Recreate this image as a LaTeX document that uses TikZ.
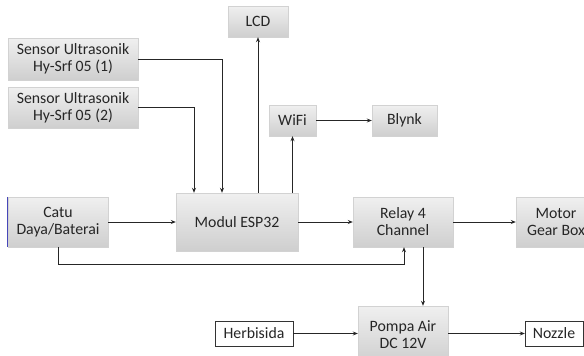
\documentclass[tikz,border=0pt]{standalone}
\usepackage{fontspec}
\setmainfont{Carlito}
\usetikzlibrary{arrows.meta}
\tikzset{
  blok/.style={draw=gray!35, top color=gray!12, bottom color=gray!38, align=center,
    inner sep=0pt, font=\fontsize{15.8}{17}\selectfont, text=black!85},
  kotak/.style={draw=black!80, fill=white, align=center, inner sep=0pt,
    font=\fontsize{15.8}{17}\selectfont, text=black!85},
  arr/.style={-{Stealth[length=5pt,width=4pt]}, line width=0.9pt, black!85},
  lin/.style={line width=0.9pt, black!85}
}
\begin{document}
\begin{tikzpicture}[x=1pt,y=-1pt]
    \useasboundingbox (0,0) rectangle (584,356);
    \clip (0,0) rectangle (584,356);
    % blocks
    \node[blok, minimum width=130pt, minimum height=42pt] (sens1) at (73,59) {Sensor Ultrasonik\\Hy-Srf 05 (1)};
    \node[blok, minimum width=130pt, minimum height=41pt] (sens2) at (73,107.5) {Sensor Ultrasonik\\Hy-Srf 05 (2)};
    \node[blok, minimum width=60pt, minimum height=31pt] (lcd) at (258,21.5) {LCD};
    \node[blok, minimum width=47pt, minimum height=31pt] (wifi) at (292.5,120.5) {WiFi};
    \node[blok, minimum width=65pt, minimum height=31pt] (blynk) at (404.5,120.5) {Blynk};
    \node[blok, minimum width=100pt, minimum height=50pt] (catu) at (58,222) {Catu\\Daya/Baterai};
    \node[blok, minimum width=122pt, minimum height=58pt] (esp) at (237,222) {Modul ESP32};
    \node[blok, minimum width=100pt, minimum height=50pt] (relay) at (403,222) {Relay 4\\Channel};
    \node[blok, minimum width=80pt, minimum height=50pt] (motor) at (556,222) {Motor\\Gear Box};
    \node[blok, minimum width=90pt, minimum height=58pt] (pump) at (403,335) {Pompa Air\\DC 12V};
    \node[kotak, minimum width=78pt, minimum height=25pt] (herb) at (254,333.5) {Herbisida};
    \node[kotak, minimum width=58pt, minimum height=25pt] (nozzle) at (554,333.5) {Nozzle};
    \draw[blue!45!gray, line width=0.8pt] (catu.north west) -- (catu.south west);
    % connectors
    \draw[arr] (sens1.east) -| ([xshift=-15pt]esp.north);
    \draw[arr] (sens2.east) -| ([xshift=-43pt]esp.north);
    \draw[arr] (esp.north -| lcd.south) -- (lcd.south);
    \draw[arr] (esp.north -| wifi.south) -- (wifi.south);
    \draw[arr] (wifi.east) -- (blynk.west);
    \draw[arr] (catu.east) -- (esp.west);
    \draw[arr] (esp.east) -- (relay.west);
    \draw[arr] (relay.east) -- (motor.west);
    \draw[arr] (catu.south) -- ++(0,17) -| ([xshift=1pt]relay.south);
    \draw[arr] ([xshift=20pt]relay.south) -- ([xshift=20pt]relay.south |- pump.north);
    \draw[arr] (herb.east) -- (pump.west |- herb.east);
    \draw[arr] (pump.east |- nozzle.west) -- (nozzle.west);
\end{tikzpicture}
\end{document}
